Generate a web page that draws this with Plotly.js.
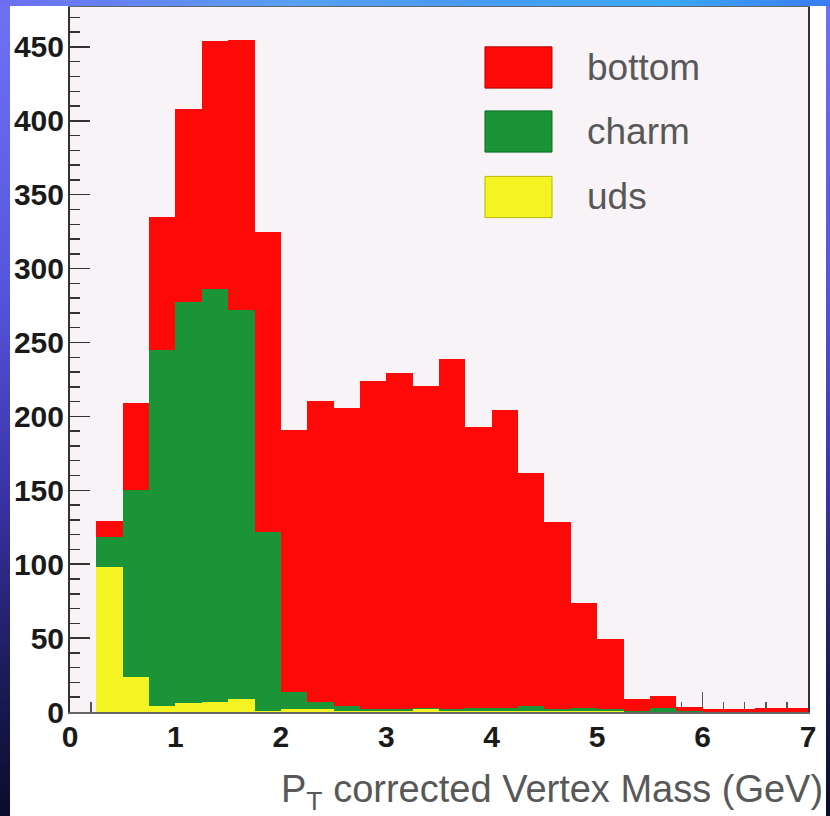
<!DOCTYPE html>
<html><head><meta charset="utf-8">
<script src="https://cdn.plot.ly/plotly-3.0.1.min.js"></script>
<style>
html,body{margin:0;padding:0;width:830px;height:816px;overflow:hidden;}
body{background:
 linear-gradient(to right,#6c6ef2 0%,#58a0f8 35%,#4a9af6 55%,#3aa8fa 80%,#3b7cf0 100%) top left/100% 6px no-repeat,
 linear-gradient(to bottom,#7072f4 0%,#5656dc 35%,#3a34a8 60%,#1c1c5c 82%,#0a0c2a 100%);}
#chart{position:absolute;left:10px;top:6px;width:816px;height:810px;background:#fff;}
</style></head><body><div id="chart"></div>
<script>
// Bin centres (GeV), bins 0.25 GeV wide
const binCenters=[0.375,0.625,0.875,1.125,1.375,1.625,1.875,2.125,2.375,2.625,2.875,3.125,3.375,3.625,3.875,4.125,4.375,4.625,4.875,5.125,5.375,5.625,5.875,6.125,6.375,6.625,6.875];
const binWidth=0.25;
const udsCounts   =[98,24,4,6,7,9,1,2,2,1,0.5,1,2,0.5,0.5,0.5,1,0.5,0.5,0.5,0,0,0,0,0,0,0];
const charmCounts =[20.5,126,241,271.5,279.5,263,120.5,11.5,4.5,3,1.5,1,1,1.5,2.5,2.5,3,1.5,2.5,1.5,1,3,0.5,0,0,0,0];
const bottomCounts=[10.5,59,90,130.5,167.5,183,203.5,177.5,204,202,222,227.5,217.5,237,189.5,201,158,126.5,70.5,47.5,7.5,7.5,3,2,2,2.5,3];
const seriesNames=['uds','charm','bottom'];
const seriesColors=['#f4f422','#1a9436','#fe0808'];
const seriesEdge=['#b8b800','#0e6a24','#b00000'];
const yTickVals=[0,50,100,150,200,250,300,350,400,450];
const xTickVals=[0,1,2,3,4,5,6,7];
const xTitle='P<sub>T</sub> corrected Vertex Mass (GeV)';

const seriesData=[udsCounts,charmCounts,bottomCounts];
const traces=seriesData.map((vals,i)=>({
  type:'bar', x:binCenters, y:vals, width:binWidth, name:seriesNames[i],
  marker:{color:seriesColors[i], line:{width:0}}, hoverinfo:'x+y+name'
}));

// legend drawn as swatches + labels (top to bottom: bottom, charm, uds)
const legX0=0.5623, legX1=0.6531, legTextX=0.6978;
const legY=[0.9142,0.8234,0.7305];
const legH=0.0585;
const shapes=[], annotations=[];
[2,1,0].forEach((si,k)=>{
  shapes.push({type:'rect',xref:'paper',yref:'paper',x0:legX0,x1:legX1,y0:legY[k]-legH/2,y1:legY[k]+legH/2,
    fillcolor:seriesColors[si],line:{color:seriesEdge[si],width:1}});
  annotations.push({xref:'paper',yref:'paper',x:legTextX,y:legY[k],xanchor:'left',yanchor:'middle',
    text:seriesNames[si],showarrow:false,font:{family:'Liberation Sans, Arial, sans-serif',size:37,color:'#585858'}});
});
annotations.push({xref:'paper',yref:'paper',x:1,y:0,xanchor:'right',yanchor:'middle',xshift:17,yshift:-80,
  text:xTitle,showarrow:false,font:{family:'Liberation Sans, Arial, sans-serif',size:38,color:'#585858'}});

const tickFont={family:'Liberation Sans, Arial, sans-serif',size:30,color:'#1a1a1a',weight:'bold'};
const layout={
  width:816,height:810,
  margin:{l:60,r:18,t:1,b:104,pad:0},
  paper_bgcolor:'#ffffff',plot_bgcolor:'#f7f3f7',
  barmode:'stack',bargap:0,showlegend:false,
  xaxis:{range:[0,7],tickvals:xTickVals,ticktext:xTickVals.map(String),ticks:'inside',ticklen:20,tickwidth:1.5,tickcolor:'#555',
    minor:{dtick:0.2,tick0:0,ticks:'inside',ticklen:10,tickwidth:1.5,tickcolor:'#555'},
    showgrid:false,zeroline:false,showline:true,linecolor:'#666',linewidth:1.5,mirror:true,layer:'below traces',
    tickfont:tickFont,ticklabelstandoff:-3,fixedrange:true},
  yaxis:{range:[0,477],tickvals:yTickVals,ticktext:yTickVals.map(String),ticks:'inside',ticklen:20,tickwidth:1.5,tickcolor:'#333',
    minor:{dtick:10,tick0:0,ticks:'inside',ticklen:10,tickwidth:1.5,tickcolor:'#333'},
    showgrid:false,zeroline:false,showline:true,linecolor:'#333',linewidth:2,mirror:true,
    tickfont:tickFont,ticklabelstandoff:-2,fixedrange:true},
  shapes:shapes,annotations:annotations
};
Plotly.newPlot('chart',traces,layout,{displayModeBar:false,staticPlot:true});
</script></body></html>
